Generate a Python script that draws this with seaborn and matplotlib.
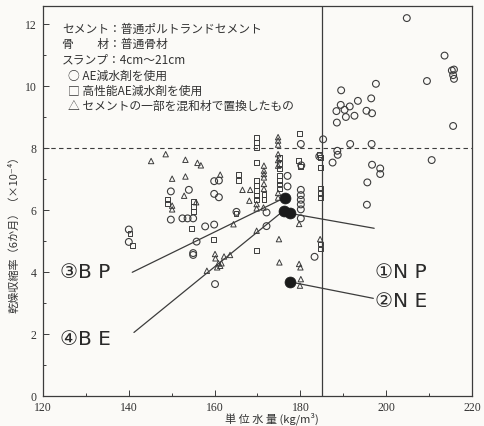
import matplotlib
matplotlib.use("Agg")
import matplotlib.pyplot as plt
import seaborn as sns
import pandas as pd
from matplotlib.ticker import MultipleLocator

# AE water-reducing agent (open circles)
ae_water = [204.8, 213.6, 215.3, 215.8, 215.6, 215.8, 209.5, 215.6, 197.6, 189.5,
            196.5, 193.4, 189.4, 191.5, 188.4, 190.3, 195.4, 196.7, 190.6, 192.6,
            188.5, 180.1, 185.3, 191.6, 196.6, 188.6, 188.7, 187.5, 184.4, 210.6,
            196.7, 198.6, 198.6, 195.6, 195.5, 183.3, 177.0, 177.0, 180.1, 180.1,
            180.1, 180.1, 180.1, 180.1, 180.2, 149.8, 154.0, 159.9, 161.0, 159.9,
            161.0, 149.8, 152.5, 153.7, 155.0, 157.8, 159.9, 155.8, 155.0, 155.0,
            140.0, 140.0, 172.1, 172.1, 165.1, 160.1]
ae_shrink = [12.19, 10.98, 10.50, 10.53, 10.35, 10.23, 10.16, 8.71, 10.07, 9.86,
             9.60, 9.52, 9.39, 9.34, 9.19, 9.23, 9.20, 9.12, 9.00, 9.04,
             8.82, 8.13, 8.28, 8.13, 8.13, 7.91, 7.78, 7.53, 7.73, 7.61,
             7.46, 7.34, 7.16, 6.89, 6.17, 4.49, 7.10, 6.76, 6.65, 6.48,
             6.33, 6.18, 6.02, 5.73, 7.44, 6.60, 6.65, 6.93, 6.95, 6.52,
             6.41, 5.69, 5.73, 5.73, 5.73, 5.47, 5.53, 4.98, 4.61, 4.55,
             5.37, 4.97, 5.92, 5.48, 5.94, 3.61]

# High-performance AE water-reducing agent (open squares)
hp_water = [179.7, 140.3, 140.9, 149.1, 149.1, 155.0, 155.0, 155.0, 154.6, 159.7,
            165.5, 165.5, 169.7, 169.8, 169.8, 169.8, 169.7, 169.7, 169.7, 169.7,
            169.7, 165.0, 169.8, 175.2, 175.2, 175.2, 175.2, 175.2, 175.2, 175.2,
            179.5, 180.0, 184.6, 184.6, 184.6, 184.6, 184.6, 184.6, 184.6, 171.5,
            171.5, 184.4]
hp_shrink = [8.47, 5.23, 4.85, 6.35, 6.21, 6.28, 6.12, 5.96, 5.41, 5.04,
             7.14, 6.95, 7.53, 8.35, 8.18, 8.02, 6.95, 6.79, 6.63, 6.48,
             6.35, 5.89, 4.69, 7.70, 7.50, 7.32, 7.10, 6.95, 6.84, 6.68,
             7.59, 7.40, 7.70, 7.38, 6.71, 6.54, 6.39, 4.90, 4.74, 6.50,
             6.35, 7.78]

# Part of the cement replaced by admixture (open triangles)
mix_water = [145.2, 148.6, 153.2, 156.0, 156.8, 150.1, 153.2, 152.9, 150.1, 150.1,
             155.7, 161.3, 166.5, 168.3, 168.1, 169.8, 164.4, 171.4, 175.0, 175.1,
             160.1, 160.2, 160.9, 161.3, 160.6, 161.6, 158.2, 162.2, 163.6, 169.8,
             174.8, 174.8, 174.8, 174.8, 174.8, 174.8, 174.8, 174.8, 171.5, 171.5,
             171.5, 171.5, 171.5, 171.5, 169.8, 179.7, 179.7, 180.0, 180.1, 179.9,
             184.6]
mix_shrink = [7.58, 7.80, 7.62, 7.52, 7.44, 7.01, 7.08, 6.46, 6.14, 6.02,
              6.25, 7.14, 6.65, 6.65, 6.30, 6.05, 5.54, 6.08, 5.06, 4.31,
              4.58, 4.44, 4.28, 4.20, 4.15, 4.28, 4.04, 4.50, 4.55, 5.33,
              8.35, 8.24, 8.11, 7.80, 7.61, 7.43, 6.55, 6.40, 7.43, 7.27,
              7.16, 7.05, 6.84, 6.68, 6.19, 5.55, 4.26, 4.15, 3.77, 3.56,
              5.06]

# Highlighted mixes (filled)
mix_names = ["①N P", "②N E", "③B P", "④B E"]
mix_points_water = [177.6, 177.6, 176.4, 176.1]
mix_points_shrink = [5.89, 3.68, 6.40, 5.98]
label_water = [197.3, 197.3, 123.9, 123.9]
label_shrink = [4.00, 3.07, 4.00, 1.84]
leader_end_water = [197.2, 197.0, 140.8, 141.2]
leader_end_shrink = [5.41, 3.15, 3.99, 2.05]

x_ticks = [120, 140, 160, 180, 200, 220]
y_ticks = [0, 2, 4, 6, 8, 10, 12]

legend_lines = [
    "セメント：普通ポルトランドセメント",
    "骨　　材：普通骨材",
    "スランプ：4cm～21cm",
    "○ AE減水剤を使用",
    "□ 高性能AE減水剤を使用",
    "△ セメントの一部を混和材で置換したもの",
]

sns.set_theme(style="ticks")
plt.rcParams["font.family"] = ["Noto Sans CJK JP", "DejaVu Sans"]

ink = "#3c3c3c"
paper = "#fbfaf7"

fig = plt.figure(figsize=(4.85, 4.27), dpi=100, facecolor=paper)
ax = fig.add_axes([43 / 485, 1 - 397 / 427, (472 - 43) / 485, (397 - 7) / 427])
ax.set_facecolor(paper)

df_ae = pd.DataFrame({"water": ae_water, "shrink": ae_shrink})
df_hp = pd.DataFrame({"water": hp_water, "shrink": hp_shrink})
df_mix = pd.DataFrame({"water": mix_water, "shrink": mix_shrink})
df_key = pd.DataFrame({"water": mix_points_water, "shrink": mix_points_shrink})

sns.scatterplot(data=df_ae, x="water", y="shrink", marker="o", s=24,
                facecolors="none", edgecolors=ink, linewidths=0.8, ax=ax, zorder=3)
sns.scatterplot(data=df_hp, x="water", y="shrink", marker="s", s=12,
                facecolors="none", edgecolors=ink, linewidths=0.7, ax=ax, zorder=3)
sns.scatterplot(data=df_mix, x="water", y="shrink", marker="^", s=15,
                facecolors="none", edgecolors=ink, linewidths=0.7, ax=ax, zorder=3)
sns.scatterplot(data=df_key, x="water", y="shrink", marker="o", s=62,
                color="#1a1a1a", edgecolor="#1a1a1a", linewidth=0.5, ax=ax, zorder=5)

# Reference lines
ax.axhline(8, color=ink, lw=0.8, ls=(0, (4, 3)), zorder=1)
ax.axvline(185, color=ink, lw=0.9, zorder=1)

# Leader lines and labels for highlighted mixes
for name, px, py, lx, ly, ex, ey in zip(mix_names, mix_points_water, mix_points_shrink,
                                        label_water, label_shrink,
                                        leader_end_water, leader_end_shrink):
    ax.plot([px, ex], [py, ey], color=ink, lw=0.9, zorder=4)
    ax.text(lx, ly, name, fontsize=14.5, color="#2a2a2a", ha="left", va="center",
            family=["DejaVu Sans"], zorder=6)

ax.set_xlim(120, 220)
ax.set_ylim(0, 12.58)
ax.set_xticks(x_ticks)
ax.set_yticks(y_ticks)
ax.xaxis.set_minor_locator(MultipleLocator(10))
ax.yaxis.set_minor_locator(MultipleLocator(1))
ax.tick_params(which="both", direction="in", colors=ink, width=0.7)
ax.tick_params(which="major", length=4, labelsize=8.5)
ax.tick_params(axis="x", which="major", pad=3.5)
ax.tick_params(axis="y", which="major", pad=4.5)
ax.tick_params(which="minor", length=2.5)
for lab in ax.get_xticklabels() + ax.get_yticklabels():
    lab.set_family(["Liberation Serif"])
    lab.set_color("#333333")
for sp in ax.spines.values():
    sp.set_color(ink)
    sp.set_linewidth(0.9)

ax.set_xlabel("")
ax.set_ylabel("")
fig.text(272 / 485, 1 - 419 / 427, "単 位 水 量 (kg/m³)", ha="center", va="center",
         fontsize=8, color="#333333")
fig.text(14 / 485, 1 - 232 / 427, "乾燥収縮率（6か月）（×10⁻⁴）", ha="center", va="center",
         rotation=90, fontsize=8, color="#333333")

# Conditions block in the upper-left corner
line_y = [29, 44, 60, 76, 91, 106]
line_x = [62, 62, 62, 68, 68, 68]
for txt, yy, xx in zip(legend_lines, line_y, line_x):
    fig.text(xx / 485, 1 - yy / 427, txt, ha="left", va="center",
             fontsize=8.5, color="#333333")

fig.savefig("out.png", dpi=100, facecolor=paper)
